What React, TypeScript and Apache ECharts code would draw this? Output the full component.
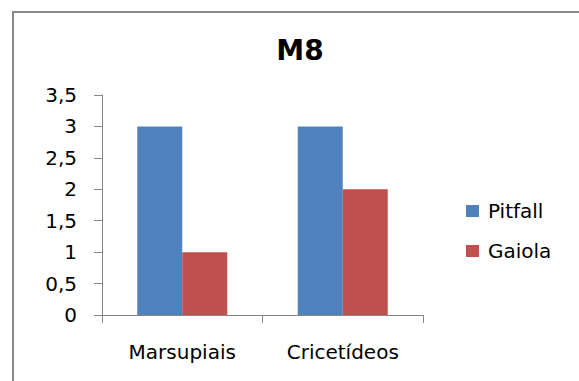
import React, { useEffect, useRef } from "react";
import * as echarts from "echarts";

const categories = ["Marsupiais", "Cricetídeos"];
const pitfall = [3, 3];
const gaiola = [1, 2];
const seriesNames = ["Pitfall", "Gaiola"];
const titleText = "M8";

export default function App() {
  const ref = useRef<HTMLDivElement>(null);
  useEffect(() => {
    const chart = echarts.init(ref.current!, null, { renderer: "svg" });
    const font = "DejaVu Sans";
    chart.setOption({
      animation: false,
      backgroundColor: "#fff",
      title: {
        text: titleText,
        left: 295,
        top: 31,
        textAlign: "center",
        textStyle: { fontFamily: font, fontWeight: "bold", fontSize: 28, color: "#000" },
      },
      graphic: [
        {
          type: "rect",
          shape: { x: 13, y: 12, width: 620, height: 420 },
          style: { fill: "none", stroke: "#878787", lineWidth: 2 },
          silent: true,
        },
      ],
      legend: {
        orient: "vertical",
        left: 461,
        top: 196,
        itemWidth: 13,
        itemHeight: 12,
        itemGap: 20,
        icon: "rect",
        data: seriesNames,
        textStyle: { fontFamily: font, fontSize: 20, color: "#000", padding: [0, 0, 0, 4] },
      },
      grid: { left: 102, right: 156, top: 95, bottom: 66 },
      xAxis: {
        type: "category",
        data: categories,
        axisLine: { lineStyle: { color: "#868686" } },
        axisTick: { show: true, length: 8, lineStyle: { color: "#868686" } },
        axisLabel: { fontFamily: font, fontSize: 20, color: "#000", margin: 27 },
      },
      yAxis: {
        type: "value",
        min: 0,
        max: 3.5,
        interval: 0.5,
        splitLine: { show: false },
        axisLine: { show: true, lineStyle: { color: "#868686" } },
        axisTick: { show: true, length: 8, lineStyle: { color: "#868686" } },
        axisLabel: {
          fontFamily: font,
          fontSize: 20,
          color: "#000",
          margin: 25,
          formatter: (v: number) => String(v).replace(".", ","),
        },
      },
      series: [
        { name: seriesNames[0], type: "bar", data: pitfall, barWidth: 45, barGap: "0%", itemStyle: { color: "#4F81BD" } },
        { name: seriesNames[1], type: "bar", data: gaiola, barWidth: 45, barGap: "0%", itemStyle: { color: "#C0504D" } },
      ],
    });
    return () => chart.dispose();
  }, []);
  return <div ref={ref} style={{ position: "absolute", left: 0, top: 0, width: 579, height: 381 }} />;
}
